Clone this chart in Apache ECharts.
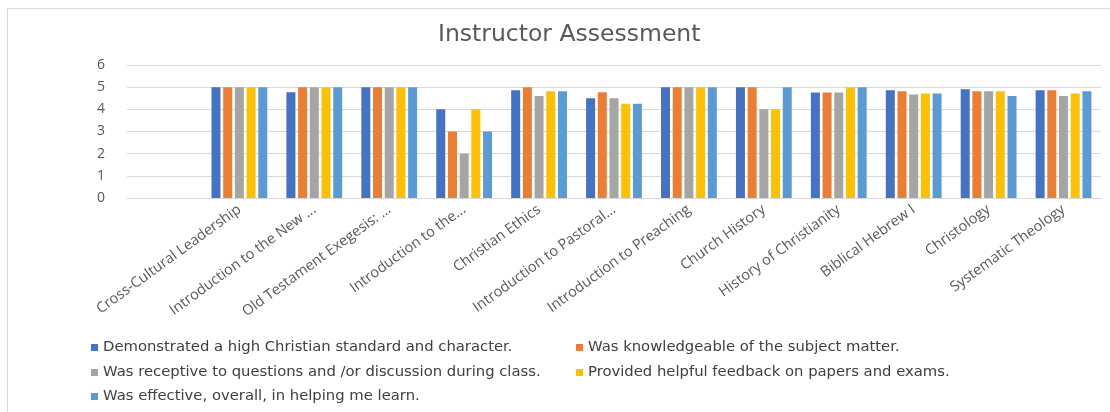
<!DOCTYPE html>
<html>
<head>
  <meta charset="utf-8">
  <title>Instructor Assessment</title>
  <style>
    html, body { margin: 0; padding: 0; background: #fff; }
    #chart { width: 1110px; height: 412px; }
  </style>
</head>
<body>
  <div id="chart"></div>
  <script src="https://cdn.jsdelivr.net/npm/echarts@6/dist/echarts.min.js"></script>
  <script type="text/javascript">
    // courses (first slot is left empty, as in the original sheet)
    var courses = ['', 'Cross-Cultural Leadership', 'Introduction to the New ...', 'Old Testament Exegesis: ...',
      'Introduction to the...', 'Christian Ethics', 'Introduction to Pastoral...', 'Introduction to Preaching',
      'Church History', 'History of Christianity', 'Biblical Hebrew I', 'Christology', 'Systematic Theology'];

    var seriesNames = [
      'Demonstrated a high Christian standard and character.',
      'Was knowledgeable of the subject matter.',
      'Was receptive to questions and /or discussion during class.',
      'Provided helpful feedback on papers and exams.',
      'Was effective, overall, in helping me learn.'
    ];

    var standard   = [null, 5, 4.77, 5, 4, 4.86, 4.5, 5, 5, 4.76, 4.86, 4.91, 4.86];
    var knowledge  = [null, 5, 5, 5, 3, 5, 4.77, 5, 5, 4.76, 4.82, 4.82, 4.86];
    var receptive  = [null, 5, 5, 5, 2, 4.6, 4.5, 5, 4, 4.76, 4.67, 4.82, 4.6];
    var feedback   = [null, 5, 5, 5, 4, 4.82, 4.25, 5, 4, 5, 4.71, 4.82, 4.71];
    var effective  = [null, 5, 5, 5, 3, 4.82, 4.25, 5, 5, 5, 4.71, 4.6, 4.82];

    var yTicks = [0, 1, 2, 3, 4, 5, 6];

    var colors = ['#4472C4', '#ED7D31', '#A5A5A5', '#FFC000', '#5B9BD5'];
    var values = [standard, knowledge, receptive, feedback, effective];
    var font = 'Open Sans';
    var wide = 'DejaVu Sans';

    var chart = echarts.init(document.getElementById('chart'));

    // one legend block per entry so they sit in two columns like Excel
    var legendPos = [[86, 335], [571, 335], [86, 360], [571, 360], [86, 384]];
    var legends = seriesNames.map(function (n, i) {
      return {
        data: [n],
        left: legendPos[i][0],
        top: legendPos[i][1],
        itemWidth: 7,
        itemHeight: 7,
        icon: 'rect',
        itemGap: 4,
        textStyle: { color: '#404040', fontSize: 14.8, fontFamily: wide }
      };
    });

    var frame = { stroke: '#d9d9d9', lineWidth: 1 };

    var option = {
      color: colors,
      title: {
        text: 'Instructor Assessment',
        left: 433,
        top: 18,
        textStyle: { color: '#595959', fontSize: 23.5, fontWeight: 'normal', fontFamily: wide }
      },
      legend: legends,
      // top and left edge of the chart-area frame (rest is cropped off)
      graphic: [
        { type: 'line', silent: true, z: -10, shape: { x1: 7.5, y1: 8.5, x2: 1110, y2: 8.5 }, style: frame },
        { type: 'line', silent: true, z: -10, shape: { x1: 7.5, y1: 8.5, x2: 7.5, y2: 412 }, style: frame }
      ],
      grid: { left: 127, right: 9, top: 65, bottom: 214, containLabel: false },
      xAxis: {
        type: 'category',
        data: courses,
        axisLine: { lineStyle: { color: '#d9d9d9' } },
        axisTick: { show: false },
        axisLabel: {
          interval: 0,
          rotate: 36,
          color: '#595959',
          fontSize: 14.5,
          fontFamily: font,
          margin: 10
        }
      },
      yAxis: {
        type: 'value',
        min: yTicks[0],
        max: yTicks[yTicks.length - 1],
        interval: 1,
        axisLine: { show: false },
        axisTick: { show: false },
        splitLine: { lineStyle: { color: '#d9d9d9' } },
        axisLabel: { color: '#595959', fontSize: 14, fontFamily: font, margin: 22 }
      },
      series: seriesNames.map(function (n, i) {
        return {
          name: n,
          type: 'bar',
          data: values[i],
          barWidth: 9,
          barGap: '30%'
        };
      })
    };

    chart.setOption(option);
    window.addEventListener('resize', chart.resize);
  </script>
</body>
</html>
